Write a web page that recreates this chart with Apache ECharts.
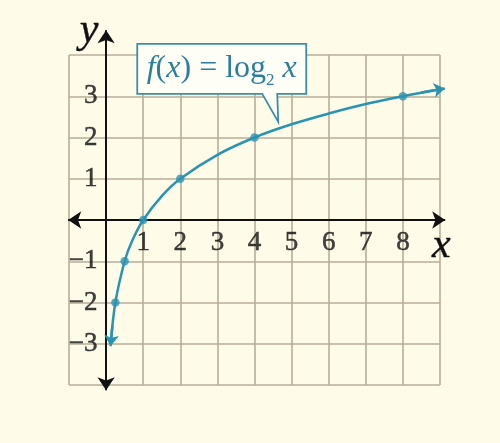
<!DOCTYPE html>
<html><head><meta charset="utf-8">
<script src="https://cdn.jsdelivr.net/npm/echarts@6/dist/echarts.min.js"></script>
<style>html,body{margin:0;padding:0;background:#fefce9}#c{width:500px;height:443px}</style>
</head><body><div id="c"></div>
<script>
// ---- data ----
const xRange = [-1, 9];
const yRange = [-4, 4];
const xTickValues = [1, 2, 3, 4, 5, 6, 7, 8];
const xTickLabels = ['1', '2', '3', '4', '5', '6', '7', '8'];
const yTickValues = [-3, -2, -1, 1, 2, 3];
const yTickLabels = ['−3', '−2', '−1', '1', '2', '3'];
const curveX = [0.125, 0.25, 0.5, 0.7, 1, 1.5, 2, 3, 4, 5, 6, 7, 8, 9];
const curveY = [-3, -2, -1, -0.51, 0, 0.58, 1, 1.58, 2, 2.32, 2.58, 2.81, 3, 3.17];
const pointX = [0.25, 0.5, 1, 2, 4, 8];
const pointY = [-2, -1, 0, 1, 2, 3];
const curveStartArrow = [[0.17, -2.56], [0.12, -3.06]];
const curveEndArrow = [[8.5, 3.09], [9.13, 3.19]];
const xAxisEnds = [[-1.02, 0], [9.14, 0]];
const yAxisEnds = [[0, -4.13], [0, 4.6]];
const noteAnchor = [4.64, 2.38];

const SERIF = '"Liberation Serif", "DejaVu Serif", serif';
const TEAL = '#2a93b1';
const GRIDC = '#b9ad96';

const chart = echarts.init(document.getElementById('c'));
const tickFont = { fontFamily: SERIF, fontSize: 27, color: '#111',
  textBorderColor: '#111', textBorderWidth: 0.5 };

chart.setOption({
  backgroundColor: '#fefce9',
  animation: false,
  grid: { left: 69, top: 55, width: 371, height: 330, outerBoundsMode: 'none' },
  xAxis: {
    type: 'value', min: xRange[0], max: xRange[1], interval: 1,
    axisLine: { show: true, onZero: true, lineStyle: { color: '#111', width: 2 } },
    axisTick: { show: false },
    axisLabel: { show: false },
    splitLine: { show: true, lineStyle: { color: GRIDC, width: 1.6 } },
    name: 'x', nameLocation: 'end', nameGap: -8, nameMoveOverlap: false,
    nameTextStyle: { fontFamily: SERIF, fontStyle: 'italic', fontSize: 42, color: '#111',
      textBorderColor: '#111', textBorderWidth: 0.4,
      align: 'left', verticalAlign: 'top', lineHeight: 52 }
  },
  yAxis: {
    type: 'value', min: yRange[0], max: yRange[1], interval: 1,
    axisLine: { show: true, onZero: true, lineStyle: { color: '#111', width: 2 } },
    axisTick: { show: false },
    axisLabel: { show: false },
    splitLine: { show: true, lineStyle: { color: GRIDC, width: 1.6 } },
    name: 'y', nameLocation: 'end', nameGap: 24, nameMoveOverlap: false,
    nameTextStyle: { fontFamily: SERIF, fontStyle: 'italic', fontSize: 42, color: '#111',
      textBorderColor: '#111', textBorderWidth: 0.4,
      align: 'center', verticalAlign: 'middle', padding: [0, 34, 0, 0] }
  },
  series: [
    {
      type: 'lines', coordinateSystem: 'cartesian2d', clip: false, z: 3,
      symbol: ['arrow', 'arrow'], symbolSize: 13,
      lineStyle: { color: '#111', width: 2, opacity: 1 },
      data: [{ coords: xAxisEnds }, { coords: yAxisEnds }]
    },
    {
      type: 'scatter', z: 3, symbol: 'circle', symbolSize: 1, silent: true,
      itemStyle: { color: 'rgba(0,0,0,0)' },
      label: Object.assign({ show: true, position: 'bottom', distance: 9,
        formatter: p => xTickLabels[p.dataIndex] }, tickFont),
      data: xTickValues.map(v => [v, 0])
    },
    {
      type: 'scatter', z: 3, symbol: 'circle', symbolSize: 1, silent: true,
      itemStyle: { color: 'rgba(0,0,0,0)' },
      label: Object.assign({ show: true, position: 'left', distance: 8,
        formatter: p => yTickLabels[p.dataIndex] }, tickFont),
      data: yTickValues.map(v => [0, v])
    },
    {
      type: 'line', clip: false, smooth: 0.35, showSymbol: false, z: 4,
      lineStyle: { color: TEAL, width: 2.5 },
      data: curveX.map((x, i) => [x, curveY[i]])
    },
    {
      type: 'lines', coordinateSystem: 'cartesian2d', clip: false, z: 4,
      symbol: ['none', 'arrow'], symbolSize: 11,
      lineStyle: { color: TEAL, width: 2.5, opacity: 1 },
      data: [{ coords: curveStartArrow }, { coords: curveEndArrow }]
    },
    {
      type: 'scatter', z: 5, symbol: 'circle', symbolSize: 8.5,
      itemStyle: { color: TEAL },
      data: pointX.map((x, i) => [x, pointY[i]])
    }
  ]
});

const tip = chart.convertToPixel({ gridIndex: 0 }, noteAnchor);
chart.setOption({
  graphic: [
    {
      type: 'polygon', x: tip[0], y: tip[1], z: 100,
      shape: { points: [[-141, -78], [28, -78], [28, -28], [-1, -28], [0, 0], [-16, -28], [-141, -28]] },
      style: { fill: '#fffef6', stroke: '#3b8ea8', lineWidth: 1.8 }
    },
    {
      type: 'text', x: tip[0] - 56.5, y: tip[1] - 53, z: 101,
      style: {
        text: '{i|f}{r|(}{i|x}{r|) = log}{s|2}{i| x}',
        align: 'center', verticalAlign: 'middle',
        rich: {
          i: { fontFamily: SERIF, fontStyle: 'italic', fontSize: 32, lineHeight: 40, fill: '#2c7f9b', verticalAlign: 'middle' },
          r: { fontFamily: SERIF, fontSize: 32, lineHeight: 40, fill: '#2c7f9b', verticalAlign: 'middle' },
          s: { fontFamily: SERIF, fontSize: 17, lineHeight: 17, fill: '#2c7f9b', verticalAlign: 'bottom' }
        }
      }
    }
  ]
});
</script>
</body></html>
